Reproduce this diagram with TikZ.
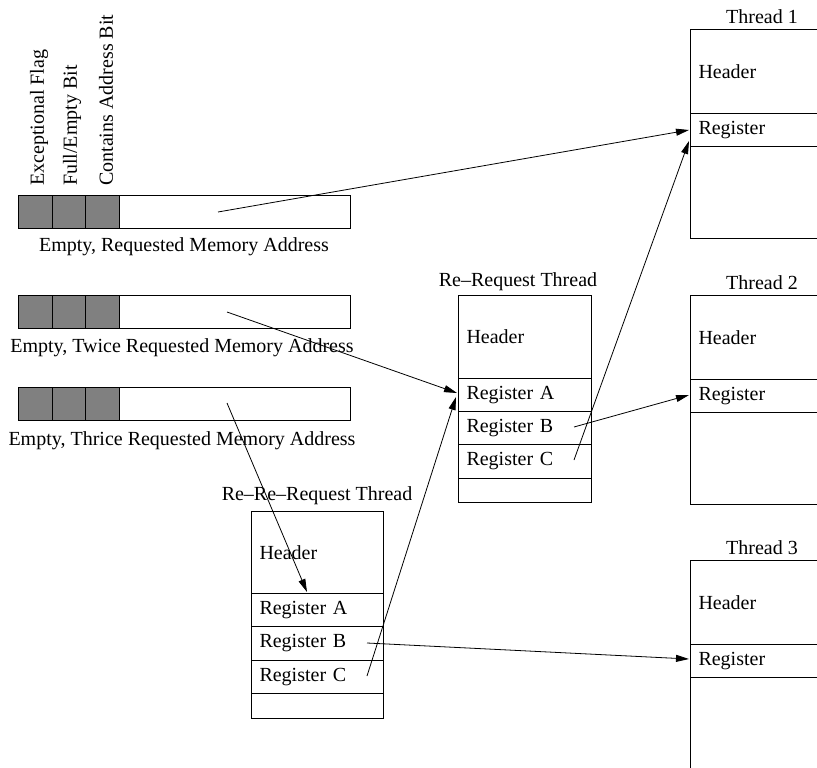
\documentclass[tikz,border=0pt]{standalone}
\usepackage{fontspec}
\setmainfont{Liberation Serif}
\usetikzlibrary{arrows.meta}
\begin{document}
\begin{tikzpicture}[x=1pt,y=-1pt,
  every node/.style={font=\fontsize{20}{24}\selectfont},
  cell/.style={draw, line width=1pt, rectangle, anchor=north west, inner xsep=8pt, inner ysep=0pt, align=left},
  bitcell/.style={draw, line width=1pt, rectangle, anchor=north west, inner sep=0pt, fill=black!50, minimum width=33.5pt, minimum height=33pt},
  barbody/.style={draw, line width=1pt, rectangle, anchor=north west, inner sep=0pt, fill=white, minimum width=332pt, minimum height=33pt},
  caption/.style={inner sep=0pt},
  vlabel/.style={rotate=90, anchor=west, inner sep=0pt},
  link/.style={line width=0.8pt, -{Triangle[length=13pt,width=7pt]}},
  plainline/.style={line width=0.8pt}
]
\useasboundingbox (0,0) rectangle (817,768);

% ---- memory bars ----
\foreach \n/\y in {1/195, 2/295, 3/387}{
  \node[barbody] (bar\n) at (18,\y) {};
  \node[bitcell] (bar\n a) at (18,\y) {};
  \node[bitcell] (bar\n b) at (51.5,\y) {};
  \node[bitcell] (bar\n c) at (85,\y) {};
}
\node[caption] (cap1) at (184,247) {Empty, Requested Memory Address};
\node[caption] (cap2) at (182,348) {Empty, Twice Requested Memory Address};
\node[caption] (cap3) at (182,441) {Empty, Thrice Requested Memory Address};

\node[vlabel] (lab1) at (39,186) {Exceptional Flag};
\node[vlabel] (lab2) at (72,186) {Full/Empty Bit};
\node[vlabel] (lab3) at (106,186) {Contains Address Bit};

% ---- Re-Request Thread ----
\node[caption] (rrt) at (518,282) {Re--Request Thread};
\node[cell, text width=117pt, minimum height=83pt] (rrh) at (458,295) {Header};
\node[cell, text width=117pt, minimum height=33pt] (rra) at (458,378) {Register A};
\node[cell, text width=117pt, minimum height=33pt] (rrb) at (458,411) {Register B};
\node[cell, text width=117pt, minimum height=34pt] (rrc) at (458,444) {Register C};
\node[cell, text width=117pt, minimum height=24pt] (rre) at (458,478) {};

% ---- Re-Re-Request Thread ----
\node[caption] (rrrt) at (317,496) {Re--Re--Request Thread};
\node[cell, text width=116pt, minimum height=82pt] (rrrh) at (251,511) {Header};
\node[cell, text width=116pt, minimum height=33pt] (rrra) at (251,593) {Register A};
\node[cell, text width=116pt, minimum height=34pt] (rrrb) at (251,626) {Register B};
\node[cell, text width=116pt, minimum height=33pt] (rrrc) at (251,660) {Register C};
\node[cell, text width=116pt, minimum height=25pt] (rrre) at (251,693) {};

% ---- Threads 1..3 ----
\foreach \n/\y in {1/29, 2/295, 3/560}{
  \node[caption] (t\n t) at (762,\y-12) {Thread \n};
  \node[cell, text width=134pt, minimum height=84pt] (t\n h) at (690,\y) {Header};
  \node[cell, text width=134pt, minimum height=33pt] (t\n r) at (690,\y+84) {Register};
  \node[cell, text width=134pt, minimum height=92pt] (t\n e) at (690,\y+117) {};
}

% ---- connector end points ----
\coordinate (s1) at (218,212);
\coordinate (s2) at (227,312);
\coordinate (s3) at (227,403);
\coordinate (rrrbS) at (367,643);
\coordinate (rrrcS) at (367,676);
\coordinate (rrbS) at (574,427);
\coordinate (rrcS) at (574,460);
\coordinate (t1in) at (689,130);
\coordinate (t1in2) at (689,141);
\coordinate (t2in) at (689,395);
\coordinate (t3in) at (689,659);
\coordinate (rrain) at (457,393);
\coordinate (rrain2) at (456,397);
\coordinate (rrrin) at (307,592);

% ---- connectors ----
\draw[link] (s1) -- (t1in);
\draw[link] (s2) -- (rrain);
\draw[link] (s3) -- (rrrin);
\draw[link] (rrrcS) -- (rrain2);
\draw[link] (rrrbS) -- (t3in);
\draw[link] (rrbS) -- (t2in);
\draw[link] (rrcS) -- (t1in2);
\end{tikzpicture}
\end{document}
